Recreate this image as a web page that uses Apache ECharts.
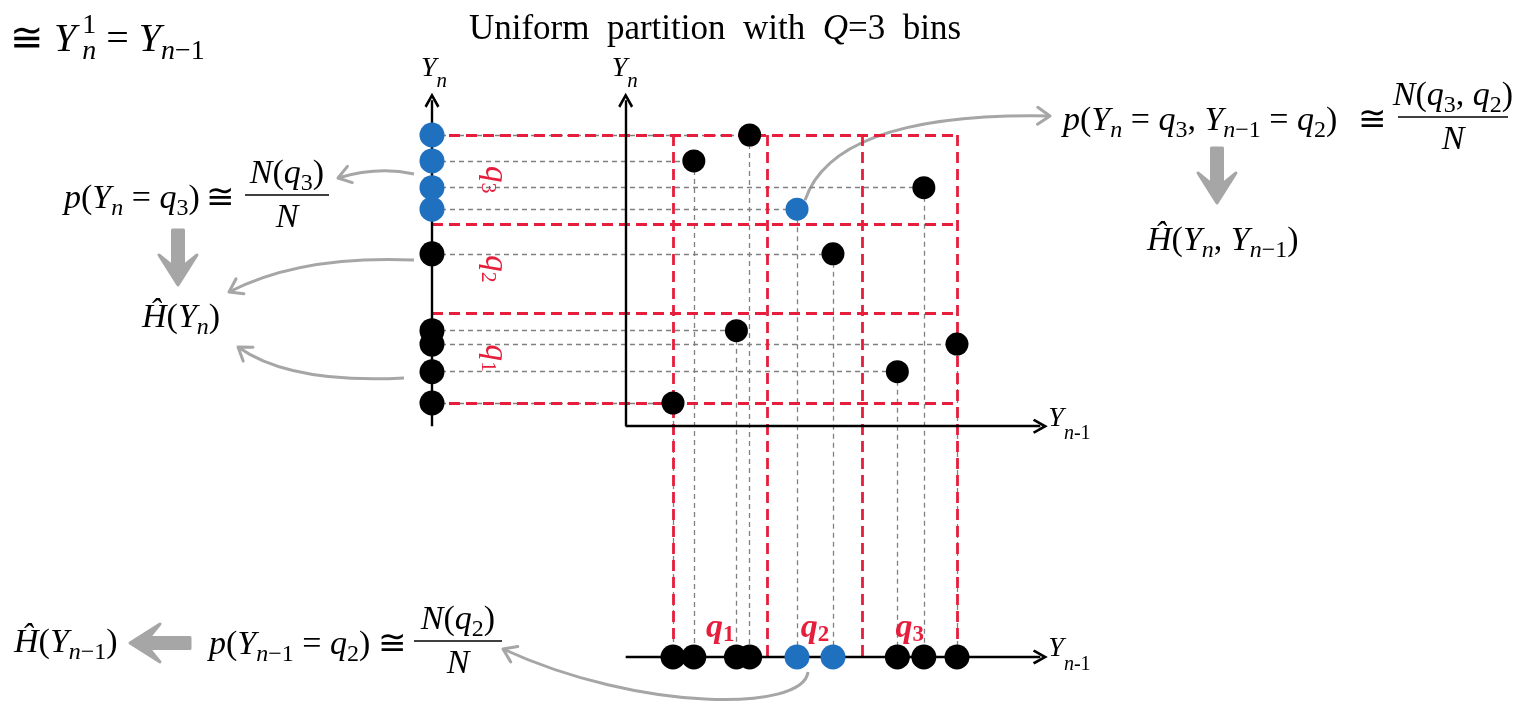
<!DOCTYPE html>
<html>
<head>
<meta charset="utf-8">
<script src="https://cdn.jsdelivr.net/npm/echarts@6/dist/echarts.min.js"></script>
<style>
  html, body { margin: 0; padding: 0; background: #fff; }
  #chart { width: 1521px; height: 708px; }
</style>
</head>
<body>
<div id="chart"></div>
<script>
// uniform partition of [min, max] into Q = 3 bins (values in bin units)
const binEdges = [0, 1, 2, 3];
const binNames = ['q1', 'q2', 'q3'];
// samples: Y_{n-1} (horizontal) and Y_n (vertical)
const prevValues = [0.00, 0.22, 0.81, 0.67, 1.31, 1.69, 2.37, 2.65, 3.00];
const currValues = [0.00, 2.71, 3.00, 0.81, 2.17, 1.67, 0.35, 2.41, 0.66];
const highlightIndex = 4;   // the sample falling in cell (q3, q2)
const selectedYBin = 2;     // q3
const selectedXBin = 1;     // q2

// layout (in data units)
const mainAxisX = -0.5, mainAxisY = -0.26, axisTop = 3.39, axisRight = 3.88;
const sideAxisX = -2.546, bottomAxisY = -2.843;
const sideLabelX = -1.88, bottomLabelY = -2.52;

const W = 1521, H = 708;
const plot = { left: 673, top: 135, width: 284, height: 268 };
const ppx = plot.width / 3, ppy = plot.height / 3;

const SERIF = "'Liberation Serif', 'DejaVu Serif', serif";
const GRAY = '#a6a6a6';
const RED = '#e61e3c';
const BLUE = '#1f71c0';
const CHEVRON = 'path://M5,0L10,8.4L8.6,9.4L5,3.4L1.4,9.4L0,8.4Z';

function binOf(v) {
  for (let i = 0; i < binNames.length; i++) if (v < binEdges[i + 1]) return i;
  return binNames.length - 1;
}

function rich(main, sub, drop, rise, color, weight) {
  color = color || '#000';
  weight = weight || 'normal';
  const base = { fontFamily: SERIF, color: color, fontWeight: weight };
  return {
    a: Object.assign({}, base, { fontSize: main, fontStyle: 'italic' }),
    b: Object.assign({}, base, { fontSize: main }),
    c: Object.assign({}, base, { fontSize: sub, fontStyle: 'italic', padding: [2 * drop, 0, 0, 0] }),
    d: Object.assign({}, base, { fontSize: sub, padding: [2 * drop, 0, 0, 0] }),
    e: Object.assign({}, base, { fontSize: sub, padding: [0, 0, 2 * rise, 6], width: 0 })
  };
}
function fx(parts) {
  return parts.map(p => '{' + p[0] + '|' + p[1] + '}').join('');
}

// ---- series data ----
const projLines = [];
prevValues.forEach((x, i) => {
  const y = currValues[i];
  projLines.push({ coords: [[sideAxisX, y], [x, y]] });
  projLines.push({ coords: [[x, y], [x, bottomAxisY]] });
});
const binTop = binEdges[binEdges.length - 1];
const gridLines = [];
binEdges.forEach(e => {
  gridLines.push({ coords: [[sideAxisX, e], [binTop, e]] });
  gridLines.push({ coords: [[e, binTop], [e, bottomAxisY]] });
});
const axisLines = [
  { coords: [[mainAxisX, mainAxisY], [mainAxisX, axisTop]] },
  { coords: [[mainAxisX, mainAxisY], [axisRight, mainAxisY]] },
  { coords: [[sideAxisX, mainAxisY], [sideAxisX, axisTop]] },
  { coords: [[mainAxisX, bottomAxisY], [axisRight, bottomAxisY]] }
];
const points = prevValues.map((x, i) => ({
  value: [x, currValues[i]],
  itemStyle: { color: i === highlightIndex ? BLUE : '#000' }
}));
const sidePoints = currValues.map(y => ({
  value: [sideAxisX, y],
  itemStyle: { color: binOf(y) === selectedYBin ? BLUE : '#000' }
}));
const bottomPoints = prevValues.map(x => ({
  value: [x, bottomAxisY],
  itemStyle: { color: binOf(x) === selectedXBin ? BLUE : '#000' }
}));
const binCenters = binNames.map((n, i) => (binEdges[i] + binEdges[i + 1]) / 2);

const binLabel = {
  show: true, position: 'inside',
  formatter: p => '{a|q}{d|' + (p.dataIndex + 1) + '}'
};
const hidden = { color: 'rgba(0,0,0,0)', opacity: 1 };

const chart = echarts.init(document.getElementById('chart'));
chart.setOption({
  animation: false,
  backgroundColor: '#fff',
  grid: { left: 0, right: 0, top: 0, bottom: 0 },
  xAxis: { type: 'value', show: false, min: -plot.left / ppx, max: 3 + (W - plot.left - plot.width) / ppx },
  yAxis: { type: 'value', show: false, min: -(H - plot.top - plot.height) / ppy, max: 3 + plot.top / ppy },
  series: [
    {
      type: 'lines', coordinateSystem: 'cartesian2d', silent: true,
      lineStyle: { color: '#808080', width: 1.3, type: [5, 4], opacity: 1 },
      data: projLines
    },
    {
      type: 'lines', coordinateSystem: 'cartesian2d', silent: true,
      lineStyle: { color: RED, width: 2.8, type: [11, 6], opacity: 1 },
      data: gridLines
    },
    {
      type: 'lines', coordinateSystem: 'cartesian2d', silent: true,
      symbol: ['none', CHEVRON], symbolSize: [1, 15],
      lineStyle: { color: '#000', width: 2.4, opacity: 1 },
      itemStyle: { color: '#000' },
      data: axisLines
    },
    { type: 'scatter', symbolSize: 23, data: points, silent: true, itemStyle: { opacity: 1 } },
    { type: 'scatter', symbolSize: 25, data: sidePoints, silent: true, itemStyle: { opacity: 1 } },
    { type: 'scatter', symbolSize: 25, data: bottomPoints, silent: true, itemStyle: { opacity: 1 } },
    {
      type: 'scatter', symbolSize: 1, silent: true, itemStyle: hidden,
      data: binCenters.map(c => [sideLabelX, c]),
      label: Object.assign({ rotate: -90, rich: rich(33, 22, 7, 0, RED) }, binLabel)
    },
    {
      type: 'scatter', symbolSize: 1, silent: true, itemStyle: hidden,
      data: binCenters.map(c => [c, bottomLabelY]),
      label: Object.assign({ rich: rich(34, 23, 7, 0, RED, 'bold') }, binLabel)
    }
  ]
});

// ---- annotations ----
const toPx = p => chart.convertToPixel({ gridIndex: 0 }, p);
const els = [];

function text(x, y, str, r, align) {
  els.push({
    type: 'text', x: x, y: y, silent: true,
    style: { text: str, rich: r, align: align || 'left', verticalAlign: 'middle',
             textAlign: align || 'left', textVerticalAlign: 'middle' }
  });
}
function frac(cx, barY, w, num, den, r) {
  text(cx, barY - 21, num, r, 'center');
  text(cx, barY + 23, den, r, 'center');
  els.push({ type: 'line', silent: true, shape: { x1: cx - w / 2, y1: barY, x2: cx + w / 2, y2: barY },
             style: { stroke: '#000', lineWidth: 1.6 } });
}
function curveArrow(p0, c1, p1, c2) {
  const shape = { x1: p0[0], y1: p0[1], x2: p1[0], y2: p1[1], cpx1: c1[0], cpy1: c1[1] };
  let last = c1;
  if (c2) { shape.cpx2 = c2[0]; shape.cpy2 = c2[1]; last = c2; }
  els.push({ type: 'bezierCurve', silent: true, shape: shape,
             style: { stroke: GRAY, lineWidth: 3, fill: 'none' } });
  const ang = Math.atan2(p1[1] - last[1], p1[0] - last[0]);
  const L = 15, a = 0.6;
  els.push({ type: 'polyline', silent: true, shape: { points: [
      [p1[0] - L * Math.cos(ang - a), p1[1] - L * Math.sin(ang - a)],
      [p1[0], p1[1]],
      [p1[0] - L * Math.cos(ang + a), p1[1] - L * Math.sin(ang + a)]] },
    style: { stroke: GRAY, lineWidth: 3, fill: 'none', lineJoin: 'round', lineCap: 'round' } });
}
function blockArrow(tail, tip) {
  // thick gray arrow from tail to tip
  const dx = tip[0] - tail[0], dy = tip[1] - tail[1];
  const len = Math.hypot(dx, dy), ux = dx / len, uy = dy / len, nx = -uy, ny = ux;
  const sh = 5.5, hh = 19, hl = 30, notch = 11;
  const at = (s, t) => [tail[0] + ux * s + nx * t, tail[1] + uy * s + ny * t];
  els.push({ type: 'polygon', silent: true, shape: { points: [
      at(0, -sh), at(0, sh), at(len - hl + notch, sh), at(len - hl, hh), at(len, 0),
      at(len - hl, -hh), at(len - hl + notch, -sh)] },
    style: { fill: GRAY, stroke: GRAY, lineWidth: 3, lineJoin: 'round' } });
}

const R34 = rich(34, 24, 10, 12);
const R40 = rich(40, 28, 12, 14);
const RAX = rich(28, 21, 12, 0, '#333');
const RAX2 = rich(28, 20, 16, 0, '#333');

// title
const sp = '\u2002';
text(715, 30, '{r|Uniform' + sp + 'partition' + sp + 'with' + sp + '}{i|Q}{r|=3' + sp + 'bins}', {
  r: { fontFamily: SERIF, fontSize: 35, color: '#333' },
  i: { fontFamily: SERIF, fontSize: 35, color: '#333', fontStyle: 'italic' }
}, 'center');

// top-left fragment
text(10, 40, fx([['b', '≅ '], ['a', 'Y'], ['e', '1'], ['c', 'n'], ['b', ' = '], ['a', 'Y'], ['c', 'n'], ['d', '−1']]), R40);

// axis names
const sideTop = toPx([sideAxisX, axisTop]);
const mainTop = toPx([mainAxisX, axisTop]);
const xEnd = toPx([axisRight, mainAxisY]);
const bEnd = toPx([axisRight, bottomAxisY]);
text(sideTop[0] - 11, 69, '{a|Y}{c|n}', RAX);
text(mainTop[0] - 14, 69, '{a|Y}{c|n}', RAX);
text(xEnd[0] + 8, xEnd[1] - 8, '{a|Y}{c|n}{d|-1}', RAX2);
text(bEnd[0] + 8, bEnd[1] - 8, '{a|Y}{c|n}{d|-1}', RAX2);

// joint probability (right)
text(1063, 121, fx([['a', 'p'], ['b', '('], ['a', 'Y'], ['c', 'n'], ['b', ' = '], ['a', 'q'], ['d', '3'], ['b', ', '],
  ['a', 'Y'], ['c', 'n'], ['d', '−1'], ['b', ' = '], ['a', 'q'], ['d', '2'], ['b', ')']]), R34);
text(1358, 121, '{b|≅}', R34);
frac(1453, 117, 110, fx([['a', 'N'], ['b', '('], ['a', 'q'], ['d', '3'], ['b', ', '], ['a', 'q'], ['d', '2'], ['b', ')']]), '{a|N}', R34);
blockArrow([1217, 148], [1217, 203]);
text(1147, 241, fx([['a', 'Ĥ'], ['b', '('], ['a', 'Y'], ['c', 'n'], ['b', ', '], ['a', 'Y'], ['c', 'n'], ['d', '−1'], ['b', ')']]), R34);

// marginal of Y_n (left)
text(64, 199, fx([['a', 'p'], ['b', '('], ['a', 'Y'], ['c', 'n'], ['b', ' = '], ['a', 'q'], ['d', '3'], ['b', ')']]), R34);
text(206, 199, '{b|≅}', R34);
frac(287, 195, 84, fx([['a', 'N'], ['b', '('], ['a', 'q'], ['d', '3'], ['b', ')']]), '{a|N}', R34);
blockArrow([178, 230], [178, 285]);
text(142, 318, fx([['a', 'Ĥ'], ['b', '('], ['a', 'Y'], ['c', 'n'], ['b', ')']]), R34);

// marginal of Y_{n-1} (bottom)
text(14, 643, fx([['a', 'Ĥ'], ['b', '('], ['a', 'Y'], ['c', 'n'], ['d', '−1'], ['b', ')']]), R34);
blockArrow([190, 643], [130, 643]);
text(209, 645, fx([['a', 'p'], ['b', '('], ['a', 'Y'], ['c', 'n'], ['d', '−1'], ['b', ' = '], ['a', 'q'], ['d', '2'], ['b', ')']]), R34);
text(378, 645, '{b|≅}', R34);
frac(458, 641, 88, fx([['a', 'N'], ['b', '('], ['a', 'q'], ['d', '2'], ['b', ')']]), '{a|N}', R34);

// thin gray arrows
const side = toPx([sideAxisX, 0])[0];
curveArrow([side - 18, 174], [378, 166], [338, 178]);
curveArrow([side - 18, 260], [300, 255], [229, 292]);
curveArrow([side - 28, 378], [290, 384], [238, 347]);
const hp = toPx(points[highlightIndex].value);
curveArrow([hp[0] + 8, hp[1] - 9], [835, 112], [1050, 116]);
const bp = toPx(bottomPoints[highlightIndex].value);
curveArrow([bp[0] + 11, bp[1] + 15], [bp[0] + 6, bp[1] + 55], [503, 649], [640, 712]);

chart.setOption({ graphic: { elements: els } });
</script>
</body>
</html>
